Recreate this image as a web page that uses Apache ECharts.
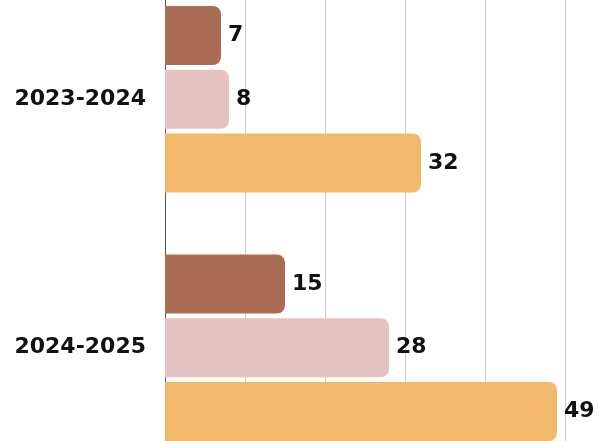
<!DOCTYPE html>
<html>
<head>
<meta charset="utf-8">
<script src="https://cdn.jsdelivr.net/npm/echarts@6/dist/echarts.min.js"></script>
<style>
  html, body { margin: 0; padding: 0; background: #fff; overflow: hidden; }
  #chart { width: 603px; height: 497px; margin-top: -25px; }
</style>
</head>
<body>
<div id="chart"></div>
<script>
const categories = ["2023-2024", "2024-2025"];
const seriesA = [7, 15];
const seriesB = [8, 28];
const seriesC = [32, 49];
const colors = ["#ab6d56", "#e6c3c0", "#f2b96c"];

const chart = echarts.init(document.getElementById("chart"));

const labelStyle = {
  show: true,
  position: "right",
  distance: 7,
  color: "#111",
  fontFamily: "DejaVu Sans",
  fontWeight: "bold",
  fontSize: 22,
};

const makeSeries = (data, color) => ({
  type: "bar",
  data: data,
  barWidth: 59,
  barGap: "8%",
  itemStyle: { color: color, borderRadius: [0, 8, 8, 0] },
  label: labelStyle,
});

chart.setOption({
  animation: false,
  grid: { left: 165, right: 38, top: 0, bottom: 0 },
  xAxis: {
    type: "value",
    min: 0,
    max: 50,
    interval: 10,
    axisLabel: { show: false },
    axisLine: { show: false },
    axisTick: { show: false },
    splitLine: { lineStyle: { color: "#cccccc", width: 1 } },
  },
  yAxis: {
    type: "category",
    inverse: true,
    data: categories,
    axisTick: { show: false },
    axisLine: { show: true, lineStyle: { color: "#555", width: 1 } },
    axisLabel: {
      margin: 19,
      color: "#111",
      fontFamily: "DejaVu Sans",
      fontWeight: "bold",
      fontSize: 22,
    },
  },
  series: [
    makeSeries(seriesA, colors[0]),
    makeSeries(seriesB, colors[1]),
    makeSeries(seriesC, colors[2]),
  ],
});
</script>
</body>
</html>
